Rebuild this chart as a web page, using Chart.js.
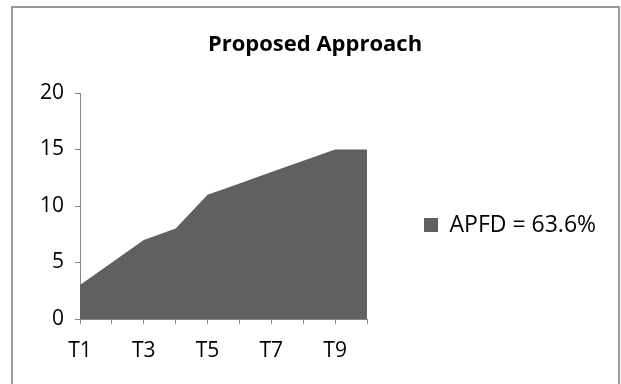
<!DOCTYPE html>
<html>
<head>
<meta charset="utf-8">
<script src="https://cdn.jsdelivr.net/npm/chart.js@4/dist/chart.umd.min.js"></script>
<style>
  html, body { margin: 0; padding: 0; background: #fff; }
  #wrap { width: 621px; height: 384px; position: relative; }
</style>
</head>
<body>
<div id="wrap"><canvas id="c" width="621" height="384"></canvas></div>
<script>
const categories = ['T1', 'T2', 'T3', 'T4', 'T5', 'T6', 'T7', 'T8', 'T9', 'T10'];
const apfdValues = [3, 5, 7, 8, 11, 12, 13, 14, 15, 15];
const seriesName = 'APFD = 63.6%';
const chartTitle = 'Proposed Approach';
const yTicks = [0, 5, 10, 15, 20];

const FONT = '"Open Sans", Lato, sans-serif';
const AXIS = '#868686';
const FILL = '#606060';
const LEGEND_W = 244;

const framePlugin = {
  id: 'frame',
  afterInit(chart) {
    const lg = chart.legend;
    if (lg) {
      const origFit = Object.getPrototypeOf(lg).fit;
      lg.fit = function () {
        this.maxWidth = 1000;
        origFit.call(this);
        this.width = LEGEND_W;
      };
    }
  },
  afterLayout(chart) {
    const lg = chart.legend;
    if (lg) { lg.top += 33; lg.bottom += 33; }
  },
  beforeDraw(chart) {
    const ctx = chart.ctx;
    ctx.save();
    ctx.fillStyle = '#fff';
    ctx.fillRect(0, 0, chart.width, chart.height);
    ctx.strokeStyle = '#9a9a9a';
    ctx.lineWidth = 2;
    ctx.strokeRect(12, 7, 607, 400);
    ctx.restore();
  }
};

new Chart(document.getElementById('c'), {
  type: 'line',
  data: {
    labels: categories,
    datasets: [{
      label: seriesName,
      data: apfdValues,
      fill: 'origin',
      backgroundColor: FILL,
      borderColor: FILL,
      borderWidth: 0,
      pointRadius: 0,
      tension: 0
    }]
  },
  options: {
    responsive: false,
    animation: false,
    layout: { padding: { left: 19, right: 10, top: 0, bottom: 0 } },
    plugins: {
      title: {
        display: true,
        text: chartTitle,
        color: '#000',
        font: { family: FONT, size: 22, weight: 'bold', lineHeight: 1.2 },
        padding: { top: 32, bottom: 34.6 }
      },
      legend: {
        display: true,
        position: 'right',
        labels: {
          color: '#000',
          font: { family: FONT, size: 23 },
          boxWidth: 14,
          boxHeight: 14,
          padding: 57,
          generateLabels(chart) {
            return chart.data.datasets.map((ds, i) => ({
              text: ds.label, fillStyle: ds.backgroundColor, strokeStyle: ds.backgroundColor,
              lineWidth: 0, hidden: false, datasetIndex: i
            }));
          }
        }
      },
      tooltip: { enabled: false }
    },
    scales: {
      x: {
        type: 'category',
        offset: false,
        afterFit(s) { s.height = 65; },
        grid: { display: true, drawOnChartArea: false, offset: false, tickLength: 5, color: AXIS },
        border: { display: true, color: AXIS, width: 1 },
        ticks: {
          autoSkip: false, maxRotation: 0, padding: 14, color: '#000',
          font: { family: FONT, size: 21 },
          callback(v, i) { return i % 2 === 0 ? categories[i] : ''; }
        }
      },
      y: {
        min: 0, max: 20,
        afterFit(s) { s.width = 61; },
        afterBuildTicks(s) { s.ticks = yTicks.map(v => ({ value: v })); },
        grid: { display: true, drawOnChartArea: false, tickLength: 5, color: AXIS },
        border: { display: true, color: AXIS, width: 1 },
        ticks: { padding: 11, color: '#000', font: { family: FONT, size: 21 } }
      }
    }
  },
  plugins: [framePlugin]
});
</script>
</body>
</html>
